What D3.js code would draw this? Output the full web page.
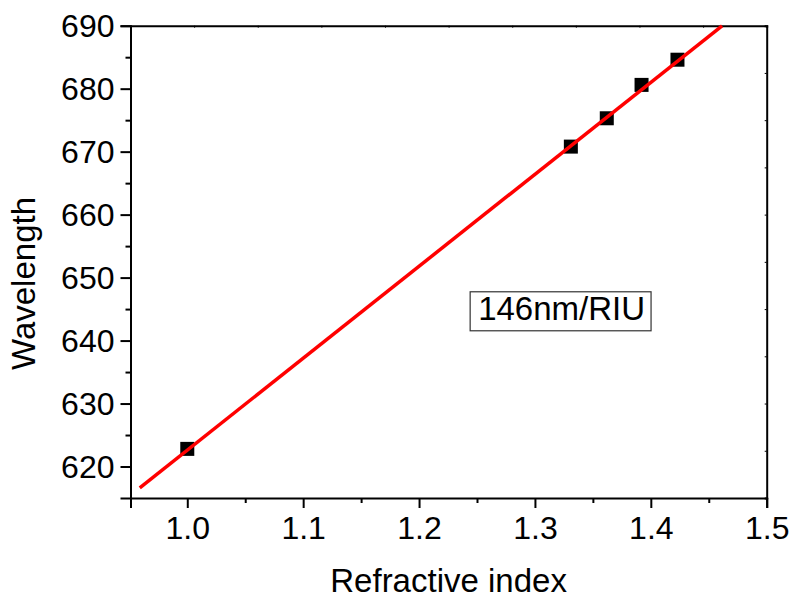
<!DOCTYPE html>
<html>
<head>
<meta charset="utf-8">
<script src="https://cdn.jsdelivr.net/npm/d3@7"></script>
<style>
  body { margin: 0; background: #fff; }
  svg { display: block; font-family: Arial, "Liberation Sans", sans-serif; }
</style>
</head>
<body>
<svg id="chart" width="793" height="601"></svg>
<script>
// measured points
const refractiveIndex = [1.0, 1.331, 1.362, 1.392, 1.423];
const wavelength = [622.8, 670.8, 675.3, 680.6, 684.6];

// linear fit
const fitSlope = 146;
const fitIntercept = 476.6;
const fitRange = [0.959, 1.4615];

const xTicks = [1.0, 1.1, 1.2, 1.3, 1.4, 1.5];
const yTicks = [620, 630, 640, 650, 660, 670, 680, 690];
const sensitivityLabel = "146nm/RIU";
const labelPos = [1.251, 643.3];

const margin = { top: 25.7, right: 26.3, bottom: 103, left: 130.5 };
const width = 793 - margin.left - margin.right;
const height = 601 - margin.top - margin.bottom;

const x = d3.scaleLinear().domain([0.951, 1.5]).range([0, width]);
const y = d3.scaleLinear().domain([615, 690]).range([height, 0]);

const svg = d3.select("#chart")
  .append("g")
  .attr("transform", `translate(${margin.left},${margin.top})`);

// minor ticks
const xMinor = d3.axisBottom(x).tickValues(d3.range(1.05, 1.5, 0.1)).tickSize(5).tickFormat("");
const yMinor = d3.axisLeft(y).tickValues(d3.range(615, 690, 10).filter(v => v > 615)).tickSize(5).tickFormat("");
const xMinorG = svg.append("g").attr("transform", `translate(0,${height})`).call(xMinor);
const yMinorG = svg.append("g").call(yMinor);
[xMinorG, yMinorG].forEach(g => {
  g.select(".domain").remove();
  g.selectAll("line").attr("stroke", "#000").attr("stroke-width", 2);
});

// opposite axes with tiny inward ticks
const div = d3.scaleLinear().domain([0, 10]);
const topAx = d3.axisTop(div.copy().range([0, width])).ticks(10).tickSize(-2).tickFormat("");
const rightAx = d3.axisRight(div.copy().range([height, 0])).ticks(10).tickSize(-2).tickFormat("");
const topG = svg.append("g").call(topAx);
const rightG = svg.append("g").attr("transform", `translate(${width},0)`).call(rightAx);
[topG, rightG].forEach(g => {
  g.select(".domain").attr("stroke", "#000").attr("stroke-width", 2);
  g.selectAll("line").attr("stroke", "#000").attr("stroke-width", 1);
});

// main axes
const xAxis = d3.axisBottom(x).tickValues(xTicks).tickSize(10).tickPadding(8).tickFormat(d3.format(".1f"));
const yAxis = d3.axisLeft(y).tickValues(yTicks).tickSize(10).tickPadding(6).tickFormat(d3.format("d"));
const xG = svg.append("g").attr("transform", `translate(0,${height})`).call(xAxis);
const yG = svg.append("g").call(yAxis);
[xG, yG].forEach(g => {
  g.select(".domain").attr("stroke", "#000").attr("stroke-width", 2);
  g.selectAll("line").attr("stroke", "#000").attr("stroke-width", 2);
  g.selectAll("text")
    .attr("fill", "#000")
    .attr("font-size", "32px")
    .attr("font-family", "Arial, 'Liberation Sans', sans-serif");
});
yG.selectAll("text").attr("dy", "0.35em");

// fit line
const line = d3.line().x(d => x(d)).y(d => y(fitSlope * d + fitIntercept));

// points
const pts = refractiveIndex.map((v, i) => ({ x: v, y: wavelength[i] }));
const sz = 14;
svg.selectAll(".pt")
  .data(pts)
  .enter()
  .append("rect")
  .attr("class", "pt")
  .attr("x", d => x(d.x) - sz / 2)
  .attr("y", d => y(d.y) - sz / 2)
  .attr("width", sz)
  .attr("height", sz)
  .attr("fill", "#000");

svg.append("path")
  .datum(fitRange)
  .attr("fill", "none")
  .attr("stroke", "#ff0000")
  .attr("stroke-width", 3.5)
  .attr("d", line);

// sensitivity label with box
const lblG = svg.append("g");
const box = lblG.append("rect");
const lbl = lblG.append("text")
  .attr("x", x(labelPos[0]))
  .attr("y", y(labelPos[1]))
  .attr("font-size", "33px")
  .attr("fill", "#000")
  .text(sensitivityLabel);
const bb = lbl.node().getBBox();
box
  .attr("x", bb.x - 8)
  .attr("y", bb.y + 2)
  .attr("width", bb.width + 14)
  .attr("height", bb.height + 2)
  .attr("fill", "none")
  .attr("stroke", "#333")
  .attr("stroke-width", 1.2);

// axis titles
svg.append("text")
  .attr("x", width / 2)
  .attr("y", height + 94)
  .attr("text-anchor", "middle")
  .attr("font-size", "33px")
  .attr("fill", "#000")
  .text("Refractive index");

svg.append("text")
  .attr("transform", `translate(${35 - margin.left},${283.5 - margin.top}) rotate(-90)`)
  .attr("text-anchor", "middle")
  .attr("font-size", "33px")
  .attr("fill", "#000")
  .text("Wavelength");
</script>
</body>
</html>
